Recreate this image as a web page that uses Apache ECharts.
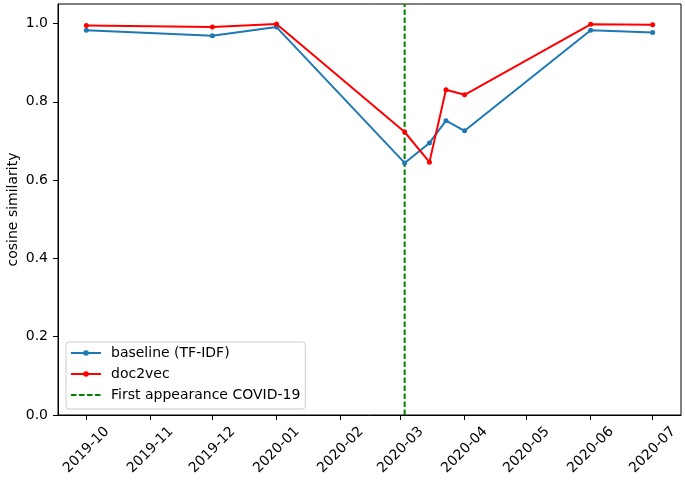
<!DOCTYPE html>
<html>
<head>
<meta charset="utf-8">
<script src="https://cdn.jsdelivr.net/npm/echarts@6/dist/echarts.min.js"></script>
<style>html,body{margin:0;padding:0;background:#fff}#c{width:685px;height:481px}</style>
</head>
<body>
<div id="c"></div>
<script>
var dates = ['2019-10-01','2019-12-01','2020-01-01','2020-03-03','2020-03-15','2020-03-23','2020-04-01','2020-06-01','2020-07-01'];
var baseline = [0.983,0.969,0.991,0.644,0.695,0.752,0.726,0.983,0.977];
var doc2vec = [0.995,0.991,0.999,0.723,0.646,0.831,0.818,0.998,0.997];
var covidDate = '2020-03-03';
var seriesNames = ['baseline (TF-IDF)','doc2vec','First appearance COVID-19'];
var yTicks = [0,0.2,0.4,0.6,0.8,1.0];

var DAY = 86400000;
var t0 = Date.parse(dates[0]), t1 = Date.parse(dates[dates.length-1]);
var pad = (t1 - t0) * 0.05;
var yMax = 1.05;
function pairs(v){ return dates.map(function(d,i){ return [d, v[i]]; }); }
var font = 'DejaVu Sans';
var fs = 14;
var chart = echarts.init(document.getElementById('c'));
chart.setOption({
  animation:false,
  textStyle:{fontFamily:font},
  grid:{left:58,right:4,top:4,bottom:66,show:true,borderColor:'#000',borderWidth:1,containLabel:false,outerBoundsMode:'none'},
  xAxis:{type:'time',min:t0-pad,max:t1+pad,minInterval:28*DAY,maxInterval:31*DAY,splitNumber:10,
    axisLine:{lineStyle:{color:'#000'}},axisTick:{show:true,length:5,lineStyle:{color:'#000'}},
    splitLine:{show:false},
    axisLabel:{rotate:45,margin:35,align:'center',verticalAlign:'middle',color:'#000',fontSize:fs,fontFamily:font,formatter:'{yyyy}-{MM}',hideOverlap:false,showMinLabel:false,showMaxLabel:false}},
  yAxis:{type:'value',min:0,max:yMax,interval:0.2,name:'cosine similarity',nameLocation:'middle',nameGap:38,nameMoveOverlap:false,
    nameTextStyle:{color:'#000',fontSize:fs,fontFamily:font},
    axisLine:{show:true,lineStyle:{color:'#000'}},axisTick:{show:true,length:5,lineStyle:{color:'#000'}},
    splitLine:{show:false},
    axisLabel:{color:'#000',margin:10,fontSize:fs,fontFamily:font,showMaxLabel:false,formatter:function(v){return v.toFixed(1);}}},
  legend:{left:66,top:342,orient:'vertical',itemGap:7,itemWidth:30,itemHeight:7,
    backgroundColor:'rgba(255,255,255,0.8)',borderColor:'#cccccc',borderWidth:1,borderRadius:3,padding:[4,5,7,4],
    textStyle:{color:'#000',fontSize:fs,fontFamily:font,padding:[0,0,0,5]},data:seriesNames},
  series:[
    {name:seriesNames[0],type:'line',data:pairs(baseline),symbol:'circle',symbolSize:5,color:'#1f77b4',lineStyle:{width:2}},
    {name:seriesNames[1],type:'line',data:pairs(doc2vec),symbol:'circle',symbolSize:5,color:'#ff0000',lineStyle:{width:2}},
    {name:seriesNames[2],type:'line',data:[[covidDate,0],[covidDate,yMax]],symbol:'circle',showSymbol:false,color:'#008000',
      itemStyle:{opacity:0},lineStyle:{width:2,type:[5.5,2.5]}}
  ]
});
</script>
</body>
</html>
